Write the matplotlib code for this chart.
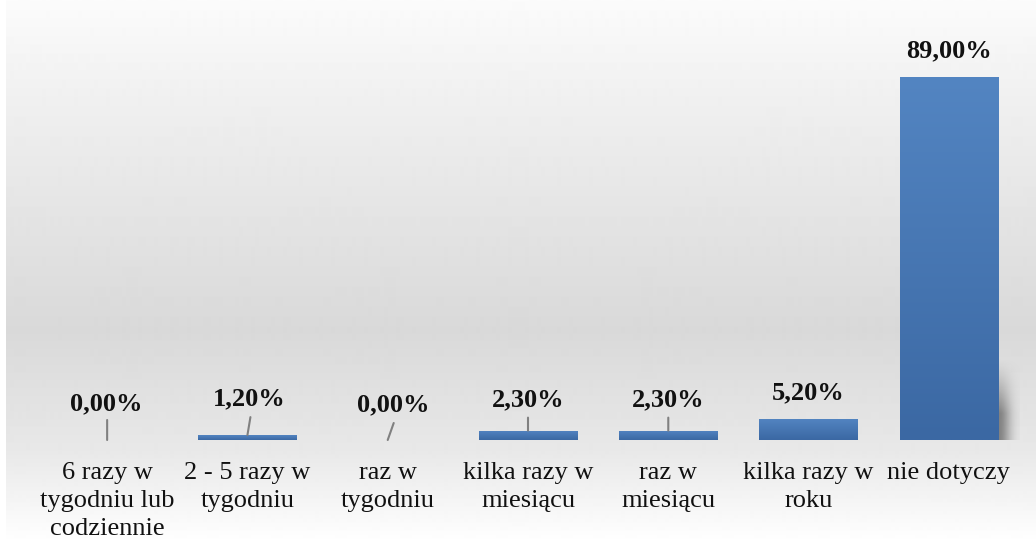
import numpy as np
import matplotlib
matplotlib.use("Agg")
import matplotlib.pyplot as plt
from matplotlib.colors import LinearSegmentedColormap

categories = ["6 razy w\ntygodniu lub\ncodziennie", "2 - 5 razy w\ntygodniu", "raz w\ntygodniu",
              "kilka razy w\nmiesiącu", "raz w\nmiesiącu", "kilka razy w\nroku", "nie dotyczy"]
values = [0.0, 1.2, 0.0, 2.3, 2.3, 5.2, 89.0]
value_labels = [f"{v:.2f}%".replace(".", ",") for v in values]

# label placement (pixel offsets of text baseline from bar top)
label_dx = [-1, 2, 6, 0, 0, 0, 0]
label_dy = [30, 30, 29, 24.5, 24.5, 19, 19.5]
# leader lines (pixel offset of line's upper end from bar top); None = no line
leader_off = [(0, 20), (3, 18), (6, 17), (0, 13), (0, 13), None, None]

W, H = 1036, 543
fig = plt.figure(figsize=(W / 100, H / 100), dpi=100)

# background gradient
bg = fig.add_axes([6 / W, 0, 1 - 6 / W, 1])
bg.axis("off")
rows = np.arange(H)
stops_y = [0, 100, 330, 450, 543]
stops_v = [0.985, 0.94, 0.85, 0.91, 1.0]
grad = np.interp(rows, stops_y, stops_v)[:, None]
bg.imshow(grad, cmap="gray", vmin=0, vmax=1, aspect="auto", extent=[0, 1, 0, 1],
          origin="upper", interpolation="bilinear")
bg.set_zorder(0)

ax = fig.add_axes([37 / W, 103 / H, 982 / W, 408 / H])
ax.set_zorder(1)
ax.patch.set_alpha(0)

x = np.arange(len(categories))
bw = 0.7
bar_cmap = LinearSegmentedColormap.from_list("bar", ["#3b68a3", "#5385c2"])

# soft shadow at right of the tall bar
i_big = int(np.argmax(values))
nx, ny = 40, 80
xs = np.linspace(0, 1, nx)[None, :]
ys = np.linspace(0, 1, ny)[:, None]  # 0 at top (origin upper)
fx = np.exp(-((xs / 0.5) ** 2))
fy = np.clip(ys * 1.5, 0, 1) ** 1.3
sh = np.zeros((ny, nx, 4))
sh[..., :3] = 0.38
sh[..., 3] = fx * fy * 0.75
ax.imshow(sh, extent=[x[i_big] + bw / 2, x[i_big] + bw / 2 + 0.17, -0.3, 20], aspect="auto",
          origin="upper", zorder=1, interpolation="bilinear")

bars = ax.bar(x, values, width=bw, color="none", edgecolor="none", zorder=2)
gimg = np.linspace(0, 1, 256)[:, None]
for b, v in zip(bars, values):
    if v <= 0:
        continue
    x0 = b.get_x()
    im = ax.imshow(gimg, cmap=bar_cmap, aspect="auto", origin="lower",
                   extent=[x0, x0 + b.get_width(), 0, v], zorder=2, interpolation="bilinear")
    im.set_clip_path(b)

ax.set_xlim(-0.5, 6.5)
ax.set_ylim(0, 100)

for i, (v, lab) in enumerate(zip(values, value_labels)):
    if leader_off[i] is not None:
        ax.annotate("", xy=(x[i], v), xytext=leader_off[i], textcoords="offset pixels",
                    arrowprops=dict(arrowstyle="-", color="#808080", lw=1.5,
                                    shrinkA=0, shrinkB=0), zorder=3)
    ax.annotate(lab, xy=(x[i], v), xytext=(label_dx[i], label_dy[i]), textcoords="offset pixels",
                ha="center", va="baseline", fontsize=19, fontweight="bold",
                family="Liberation Serif", color="#111111", zorder=3)

ax.set_xticks(x)
ax.set_xticklabels(categories, fontsize=19, family="Liberation Serif", color="#111111",
                   linespacing=1.34)
ax.tick_params(axis="x", length=0, pad=16)
ax.set_yticks([])
for s in ax.spines.values():
    s.set_visible(False)

fig.savefig("out.png", dpi=100)
